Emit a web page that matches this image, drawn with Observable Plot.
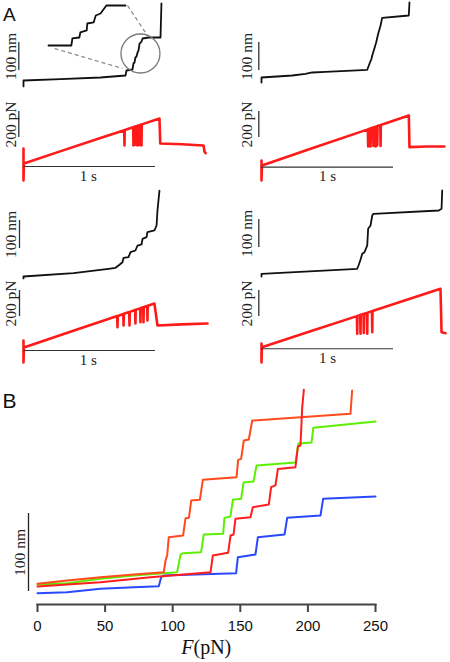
<!DOCTYPE html>
<html><head><meta charset="utf-8">
<script src="https://cdn.jsdelivr.net/npm/d3@7"></script>
<script src="https://cdn.jsdelivr.net/npm/@observablehq/plot@0.6"></script>
<style>
html,body{margin:0;padding:0;background:#fff;}
#fig{position:relative;width:450px;height:662px;overflow:hidden;background:#fff;}
#fig svg{position:absolute;overflow:visible;}
</style>
</head><body><div id="fig"></div>
<script>
// ---------- Panel A data: [time (s), extension (nm)] and [time (s), force (pN)] ----------
const a1Ext = [[0,-21],[0,0],[0.28,5],[0.583,10.7],[0.773,17.9],[0.78,35.7],[0.826,39.3],[0.833,60.7],[0.841,64.3],[0.848,82.1],[0.856,85.7],[0.864,100],[0.871,107],[0.879,132],[0.894,139],[0.902,150],[0.947,153.6],[1.038,153.6],[1.045,275]];
const a1Force = [[0,115],[0,-131],[0.003,0],[0.3,101],[0.6,202],[0.763,256],[0.765,138],[0.767,258],[0.831,279],[0.833,138],[0.835,281],[0.846,284],[0.848,145],[0.85,286],[0.862,289],[0.864,138],[0.866,291],[0.877,294],[0.879,142],[0.881,296],[0.892,299],[0.894,138],[0.896,301],[1.03,346],[1.036,154],[1.2,148],[1.364,138],[1.371,92],[1.38,79]];
const a1Inset = [[0.775,35],[0.818,35],[0.820,55.7],[0.833,58.6],[0.835,73.4],[0.847,79.3],[0.848,99.9],[0.860,102.9],[0.864,123.5],[0.873,129.4],[0.884,153],[0.92,153]];
const a1Zoom = [{t:0.886, nm:96.4}];
const a1Connectors = [{t1:0.235,n1:114.3,t2:0.75,n2:42.9},{t1:0.788,n1:267.9,t2:0.939,n2:160.7}];

const a2Ext = [[0,-17.9],[0,0],[0.232,7.1],[0.333,13.2],[0.384,17.9],[0.485,20.4],[0.801,27.5],[0.818,48.9],[0.833,66.8],[0.839,78.6],[0.858,108.2],[0.869,126],[0.884,156],[0.902,185.7],[0.914,213],[1.116,221.4],[1.121,268.6]];
const a2Force = [[0,38],[0,-115],[0.003,0],[0.4,138],[0.806,278],[0.808,146],[0.81,279],[0.824,284],[0.826,146],[0.828,286],[0.846,292],[0.848,150],[0.85,293],[0.863,298],[0.865,146],[0.867,299],[0.875,302],[0.877,155],[0.879,303],[0.9,310],[0.902,150],[0.904,312],[1.116,385],[1.121,141],[1.25,146],[1.386,146]];

const a3Ext = [[0,-7],[0,0],[0.379,11.8],[0.644,27.5],[0.697,31],[0.72,39.3],[0.75,51],[0.758,66.8],[0.795,69],[0.811,86.8],[0.848,92.9],[0.864,110.7],[0.894,114.3],[0.902,134.6],[0.932,140.4],[0.939,158.2],[0.992,164.3],[1.008,182.1],[1.015,235.7],[1.03,307]];
const a3Force = [[0,54],[0,-115],[0.003,0],[0.4,136],[0.71,242],[0.712,156],[0.714,243],[0.756,258],[0.758,169],[0.76,259],[0.801,273],[0.803,169],[0.805,274],[0.846,288],[0.848,185],[0.85,290],[0.884,301],[0.886,195],[0.888,303],[0.907,309],[0.909,195],[0.911,311],[0.937,320],[0.939,208],[0.941,321],[0.992,338],[1.015,169],[1.2,178],[1.394,185]];

const a4Ext = [[0,-9.6],[0,0],[0.725,17.9],[0.735,29.6],[0.75,50],[0.763,71.4],[0.78,77.1],[0.801,101],[0.808,160.7],[0.826,172.5],[0.839,208.2],[0.848,214.3],[1.343,226],[1.364,232],[1.369,297.5]];
const a4Force = [[0,28],[0,-118],[0.003,0],[0.4,132],[0.723,239],[0.725,103],[0.727,241],[0.748,248],[0.75,103],[0.752,249],[0.773,256],[0.775,110],[0.777,257],[0.799,264],[0.801,103],[0.803,266],[0.837,277],[0.839,115],[0.841,278],[1.356,449],[1.364,115],[1.394,108]];

// scale-bar annotations (units of each trace)
const extBarLabel = "100 nm", forceBarLabel = "200 pN", timeBarLabel = "1 s";
const extBarLen = 100, forceBarLen = 200, timeBarLen = 1;

// ---------- Panel B data: [force (pN), extension (nm)] ----------
const bBlue = [[0,-2.1],[21.9,-0.9],[46.6,3.4],[71.3,5.6],[89.7,6.8],[91.5,18.4],[93.4,20.5],[146.9,23.5],[148.2,44],[161.2,47.4],[163,69.7],[182.7,73.1],[184.7,94.4],[209.3,97.4],[211.3,118.8],[250,121.8]];
const bGreen = [[0,9],[21.9,10.7],[46.6,16.2],[71.3,20.5],[103.3,24.8],[105.8,47.4],[107.7,49.1],[121,50.4],[123,73.1],[137.3,73.9],[138.3,94.4],[142.7,96.2],[144.5,117.5],[150.6,118.8],[152.4,139.7],[159.8,141],[162,161.5],[190.8,165.4],[193,189.7],[202.7,191],[204,210],[250,218]];
const bRed = [[0,6.4],[46.6,12],[83.6,18.4],[128,24.8],[129.7,46.2],[141,49.6],[142.8,71.8],[145,73],[146.4,93.2],[157.5,95.3],[159.3,108.1],[171.1,111.5],[172.8,133.8],[176,136],[177.8,157],[190.8,159.4],[192.6,185.9],[194.5,187.2],[195.8,236],[197,258.5]];
const bOrange = [[0,9.8],[21.9,14.1],[46.6,18.4],[71.3,21.8],[93.4,24.8],[94.7,39.7],[95.9,46.2],[97.1,69.7],[107.7,71.8],[109.5,94],[112,94.4],[113.7,116.7],[120.1,117.5],[122.3,143.2],[147.2,146.6],[148.4,168.8],[150.6,170],[152.6,193.6],[156.3,194.9],[158.8,219.2],[231.5,227.8],[232.7,257.7]];
const bTicks = [0,50,100,150,200,250];
const bSeries = [{data:bBlue,color:"#2a48ff"},{data:bGreen,color:"#5cf000"},{data:bOrange,color:"#ff4a1e"},{data:bRed,color:"#ff1e1e"}];

// ---------- layout ----------
const fig = document.getElementById("fig");
const SERIF = "Liberation Serif, Times New Roman, serif";
const SANS = "Liberation Sans, Arial, sans-serif";
const PXS = 132; // px per second
function place(svg, left, top){ svg.style.left = left+"px"; svg.style.top = top+"px"; fig.appendChild(svg); }

function cellPlot({left, top, height, x0, yb, k, marks}) {
  return Plot.plot({
    width: 225, height, margin: 0,
    style: {background: "transparent", overflow: "visible"},
    x: {domain: [(left - x0)/PXS, (left + 225 - x0)/PXS], axis: null},
    y: {domain: [(yb - top - height)/k, (yb - top)/k], axis: null},
    marks
  });
}
function barMarks(t, v0, len, label, dx) {
  return [
    Plot.ruleX([t], {y1: v0, y2: v0 + len, stroke: "#333", strokeWidth: 1.3}),
    Plot.text([label], {x: t, y: v0 + len/2, rotate: -90, textAnchor: "middle", lineAnchor: "bottom", dx, fontFamily: SERIF, fontSize: 15.5, fill: "#222"})
  ];
}
function timeMarks(v, vText, tText) {
  return [
    Plot.ruleY([v], {x1: 0, x2: timeBarLen, stroke: "#333", strokeWidth: 1.2}),
    Plot.text([timeBarLabel], {x: tText, y: vText, lineAnchor: "bottom", fontFamily: SERIF, fontSize: 15, fill: "#222"})
  ];
}
const line = (data, stroke, w) => Plot.line(data, {x: d => d[0], y: d => d[1], stroke, strokeWidth: w, strokeLinejoin: "round"});

const cells = [
  {left:0, x0:23, top:0, yb:80, ext:a1Ext, eBar:35.7, force:a1Force, fTop:95, fyb:163, fBar:200, barT:-0.0356, dx:-3.3, tb:-23, tbt:-138, tt:0.49},
  {left:225, x0:261, top:0, yb:77, ext:a2Ext, eBar:25, force:a2Force, fTop:95, fyb:165, fBar:215, barT:-0.0205, dx:-6.3, tb:-13, tbt:-123, tt:0.5},
  {left:0, x0:23, top:185, yb:276, ext:a3Ext, eBar:100, force:a3Force, fTop:280, fyb:347, fBar:238, barT:-0.0303, dx:-3.8, tb:-23, tbt:-138, tt:0.49},
  {left:225, x0:261, top:185, yb:273.3, ext:a4Ext, eBar:94, force:a4Force, fTop:280, fyb:346.7, fBar:236, barT:-0.0205, dx:-6.3, tb:-12, tbt:-125, tt:0.5}
];

cells.forEach((c, i) => {
  const extMarks = [line(c.ext, "#111", 1.8), ...barMarks(c.barT, c.eBar, extBarLen, extBarLabel, c.dx)];
  if (i === 0) {
    extMarks.push(
      Plot.link(a1Connectors, {x1:"t1", y1:"n1", x2:"t2", y2:"n2", stroke:"#888", strokeWidth:1.2, strokeDasharray:"4,3"}),
      Plot.dot(a1Zoom, {x:"t", y:"nm", r:19.5, stroke:"#7a7a7a", fill:"none", strokeWidth:1.3}),
      Plot.text(["A"], {frameAnchor:"top-left", textAnchor:"start", lineAnchor:"bottom", dx:2.5, dy:20.5, fontFamily:SANS, fontSize:19, fill:"#111"})
    );
  }
  place(cellPlot({left:c.left, top:c.top, height:95, x0:c.x0, yb:c.yb, k:0.28, marks: extMarks}), c.left, c.top);
  const fMarks = [line(c.force, "#ff1a1a", 2.6), ...barMarks(c.barT, c.fBar, forceBarLen, forceBarLabel, c.dx), ...timeMarks(c.tb, c.tbt, c.tt)];
  place(cellPlot({left:c.left, top:c.fTop, height:90, x0:c.x0, yb:c.fyb, k:0.13, marks: fMarks}), c.left, c.fTop);
});

// magnified inset (own scale)
const inset = Plot.plot({
  width:225, height:95, margin:0,
  style:{background:"transparent", overflow:"visible"},
  x:{domain:[0.775 - 48/531, 0.775 + 177/531], axis:null},
  y:{domain:[35 - 50*2.95, 35 + 45*2.95], axis:null},
  marks:[line(a1Inset, "#111", 1.8)]
});
place(inset, 0, 0);

// ---------- Panel B ----------
const bTop = 370, bH = 292;
const bPlot = Plot.plot({
  width: 450, height: bH,
  marginLeft: 37, marginRight: 75, marginTop: 0, marginBottom: 58,
  style: {background:"transparent", overflow:"visible", fontFamily: SANS},
  x: {domain: [0, 250]},
  y: {domain: [0, 100], range: [221, 143], axis: null},
  marks: [
    Plot.frame({anchor:"bottom", stroke:"#444", strokeWidth:2.2}),
    Plot.axisX({ticks: bTicks, tickSize: 8, tickPadding: 8, fontSize: 15, stroke: "#444", strokeWidth: 2, fill: "#111", label: null, tickFormat: d => String(d)}),
    ...bSeries.map(s => line(s.data, s.color, 2)),
    Plot.ruleX([-6.66], {y1: 0, y2: extBarLen, stroke:"#222", strokeWidth:1.3}),
    Plot.text([extBarLabel], {x:-6.66, y: extBarLen/2, rotate:-90, textAnchor:"middle", lineAnchor:"bottom", dx:-3, fontFamily:SERIF, fontSize:15.5, fill:"#222"}),
    Plot.text(["F"], {x:115.4, y:-79.5, textAnchor:"end", lineAnchor:"bottom", fontFamily:SERIF, fontStyle:"italic", fontSize:20, fill:"#111"}),
    Plot.text(["(pN)"], {x:115.4, y:-79.5, textAnchor:"start", lineAnchor:"bottom", fontFamily:SERIF, fontSize:20, fill:"#111"}),
    Plot.text(["B"], {frameAnchor:"top-left", textAnchor:"start", lineAnchor:"bottom", dx:-35, dy:37, fontFamily:SANS, fontSize:21, fill:"#111"})
  ]
});
place(bPlot, 0, bTop);
</script></body></html>
